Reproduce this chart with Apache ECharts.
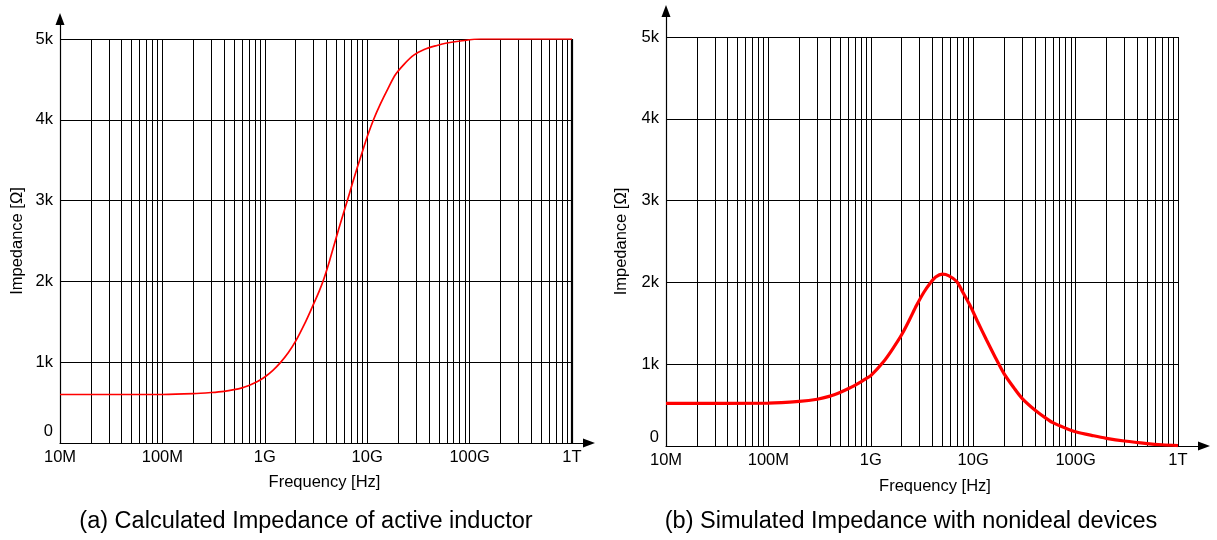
<!DOCTYPE html>
<html><head><meta charset="utf-8">
<script src="https://cdn.jsdelivr.net/npm/echarts@6/dist/echarts.min.js"></script>
<style>html,body{margin:0;padding:0;background:#fff}#c{width:1217px;height:540px}</style>
</head><body><div id="c"></div>
<script>
// ---- tick values / labels ----
const xTickValues = [1e7, 1e8, 1e9, 1e10, 1e11, 1e12];
const xTickLabels = ['10M', '100M', '1G', '10G', '100G', '1T'];
const yTickValues = [0, 1000, 2000, 3000, 4000, 5000];
const yTickLabels = ['0', '1k', '2k', '3k', '4k', '5k'];
const gridMultipliers = [1, 2, 3, 4, 5, 6, 7, 8, 9];

// ---- (a) Calculated impedance of active inductor ----
const freqA = [1e7, 1e8, 2e8, 3e8, 4e8, 5e8, 6e8, 7e8, 8e8, 9e8, 1e9, 1.2e9, 1.42e9, 1.7e9, 2e9, 2.5e9, 2.9e9, 3.4e9, 3.77e9, 4.3e9, 4.9e9, 5.6e9, 6.4e9, 7.2e9, 8e9, 9e9, 1e10, 1.16e10, 1.35e10, 1.6e10, 1.89e10, 2.3e10, 2.85e10, 3.6e10, 4.8e10, 6e10, 8.1e10, 1.28e11, 1e12];
const impA  = [600, 600, 610, 625, 640, 660, 683, 712, 745, 780, 817, 900, 995, 1120, 1260, 1500, 1680, 1880, 2030, 2260, 2510, 2760, 3000, 3220, 3410, 3610, 3790, 4010, 4200, 4390, 4560, 4690, 4800, 4870, 4920, 4950, 4975, 5000, 5000];

// ---- (b) Simulated impedance with nonideal devices ----
const freqB = [1e7, 1e8, 2e8, 3e8, 4e8, 5e8, 6e8, 7e8, 8e8, 9e8, 1e9, 1.33e9, 1.6e9, 2e9, 2.4e9, 2.8e9, 3.3e9, 3.8e9, 4.3e9, 5e9, 5.8e9, 6.9e9, 8e9, 9.3e9, 1.1e10, 1.35e10, 1.65e10, 2e10, 2.5e10, 3e10, 4e10, 5e10, 6e10, 8e10, 1e11, 1.5e11, 2e11, 3e11, 5e11, 7e11, 1e12];
const impB  = [520, 524, 545, 572, 610, 655, 700, 742, 785, 825, 860, 1030, 1170, 1360, 1550, 1720, 1880, 1990, 2065, 2100, 2080, 2010, 1870, 1720, 1525, 1295, 1080, 885, 710, 583, 440, 350, 285, 218, 175, 125, 94, 61, 30, 15, 5];

const captionA = '(a) Calculated Impedance of active inductor';
const captionB = '(b) Simulated Impedance with nonideal devices';
const xName = 'Frequency [Hz]';
const yName = 'Impedance [Ω]';

const FONT = '"Liberation Sans", Arial, Helvetica, sans-serif';
const TICK_FS = 16.5;

function xLabel(v) {
  const i = xTickValues.findIndex(t => Math.abs(Math.log10(t) - Math.log10(v)) < 1e-6);
  return i >= 0 ? xTickLabels[i] : '';
}
function yLabel(v) {
  const i = yTickValues.indexOf(Math.round(v));
  if (i < 0) return '';
  return i === 0 ? '{z|' + yTickLabels[0] + '}' : yTickLabels[i];
}

// vertical grid lines at 1..9 x each decade (axis tick positions)
function gridLineValues() {
  const out = [];
  for (let d = 0; d < xTickValues.length; d++) {
    for (const m of gridMultipliers) {
      const v = xTickValues[d] * m;
      if (v > xTickValues[0] && v <= xTickValues[xTickValues.length - 1] * 1.0001) out.push(v);
    }
  }
  return out;
}

function dataXAxis(gi) {
  return {
    gridIndex: gi, type: 'log', logBase: 10, min: xTickValues[0], max: xTickValues[xTickValues.length - 1], splitNumber: 5,
    axisLine: { show: false }, axisTick: { show: false }, splitLine: { show: false }, minorTick: { show: false },
    axisLabel: { formatter: xLabel, fontSize: TICK_FS, color: '#000', fontFamily: FONT, margin: 6, showMinLabel: true, showMaxLabel: true }
  };
}
function dataYAxis(gi, zeroPad, gap) {
  return {
    gridIndex: gi, type: 'value', min: 0, max: 5000, interval: 1000,
    axisLine: { show: false }, axisTick: { show: false },
    splitLine: { show: true, lineStyle: { color: '#000', width: 1 } },
    axisLabel: { formatter: yLabel, fontSize: TICK_FS, color: '#000', fontFamily: FONT, margin: 7,
      rich: { z: { fontSize: TICK_FS, color: '#000', fontFamily: FONT, padding: [0, 0, zeroPad, 0] } } },
    name: yName, nameLocation: 'middle', nameGap: gap, nameRotate: 90,
    nameTextStyle: { fontSize: TICK_FS, color: '#000', fontFamily: FONT }
  };
}
function arrowXAxis(gi, gap) {
  return {
    gridIndex: gi, type: 'value', min: 0, max: 1,
    axisLine: { show: true, onZero: false, symbol: ['none', 'triangle'], symbolSize: [9, 12], lineStyle: { color: '#000', width: 1.2 } },
    axisTick: { show: false }, axisLabel: { show: false }, splitLine: { show: false },
    name: xName, nameLocation: 'middle', nameGap: gap,
    nameTextStyle: { fontSize: TICK_FS, color: '#000', fontFamily: FONT }
  };
}
function arrowYAxis(gi) {
  return {
    gridIndex: gi, type: 'value', min: 0, max: 1,
    axisLine: { show: true, onZero: false, symbol: ['none', 'triangle'], symbolSize: [9, 12], lineStyle: { color: '#000', width: 1.2 } },
    axisTick: { show: false }, axisLabel: { show: false }, splitLine: { show: false }
  };
}
function gridSeries(axisIdx, lastWidth) {
  const vals = gridLineValues();
  return {
    type: 'line', xAxisIndex: axisIdx, yAxisIndex: axisIdx, data: [], z: 1, silent: true,
    markLine: {
      silent: true, symbol: ['none', 'none'], label: { show: false }, animation: false,
      lineStyle: { color: '#000', width: 1, type: 'solid' },
      emphasis: { disabled: true },
      data: vals.map((v, i) => (i === vals.length - 1
        ? { xAxis: v, lineStyle: { color: '#000', width: lastWidth, type: 'solid' } }
        : { xAxis: v }))
    }
  };
}

const chart = echarts.init(document.getElementById('c'));
chart.setOption({
  animation: false,
  backgroundColor: '#fff',
  textStyle: { fontFamily: FONT },
  title: [
    { text: captionA, left: 306, top: 508, textAlign: 'center', padding: 0,
      textStyle: { fontSize: 23.5, fontWeight: 'normal', color: '#000', fontFamily: FONT, lineHeight: 28 } },
    { text: captionB, left: 911, top: 508, textAlign: 'center', padding: 0,
      textStyle: { fontSize: 23.5, fontWeight: 'normal', color: '#000', fontFamily: FONT, lineHeight: 28 } }
  ],
  grid: [
    { left: 60, top: 39, width: 512, height: 404 },
    { left: 60, top: 19, width: 529, height: 424 },
    { left: 666, top: 37, width: 512, height: 409 },
    { left: 666, top: 11, width: 538, height: 435 }
  ],
  xAxis: [dataXAxis(0), arrowXAxis(1, 31), dataXAxis(2), arrowXAxis(3, 32)],
  yAxis: [dataYAxis(0, 24, 34), arrowYAxis(1), dataYAxis(2, 18, 36), arrowYAxis(3)],
  series: [
    gridSeries(0, 2.2),
    {
      type: 'line', xAxisIndex: 0, yAxisIndex: 0, z: 5, silent: true,
      data: freqA.map((f, i) => [f, impA[i]]),
      showSymbol: false, symbol: 'none', smooth: 0.3,
      lineStyle: { color: '#ff0000', width: 1.7 }
    },
    gridSeries(2, 1),
    {
      type: 'line', xAxisIndex: 2, yAxisIndex: 2, z: 5, silent: true,
      data: freqB.map((f, i) => [f, impB[i]]),
      showSymbol: false, symbol: 'none', smooth: 0.3,
      lineStyle: { color: '#ff0000', width: 3.2 }
    }
  ]
});
</script>
</body></html>
